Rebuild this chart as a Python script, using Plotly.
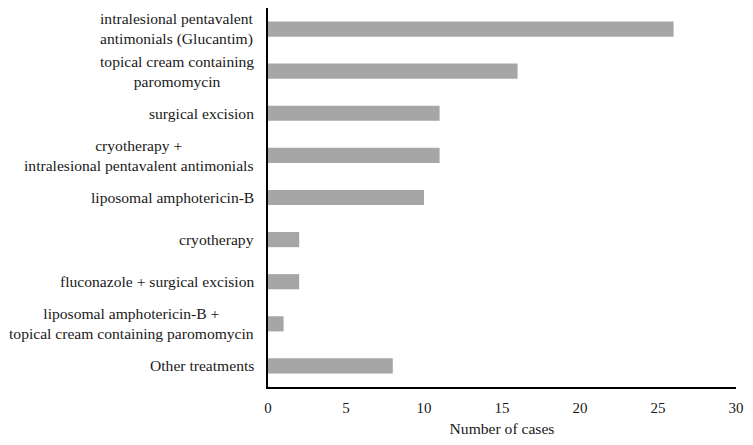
import plotly.graph_objects as go

categories = [
    "intralesional pentavalent<br>antimonials (Glucantim)",
    "topical cream containing<br>paromomycin",
    "surgical excision",
    "cryotherapy +<br>intralesional pentavalent antimonials",
    "liposomal amphotericin-B",
    "cryotherapy",
    "fluconazole + surgical excision",
    "liposomal amphotericin-B +<br>topical cream containing paromomycin",
    "Other treatments",
]
cases = [26, 16, 11, 11, 10, 2, 2, 1, 8]
x_ticks = [0, 5, 10, 15, 20, 25, 30]
x_title = "Number of cases"

FONT = "Liberation Serif"
FS = 15
FS_LABEL = 15.6

fig = go.Figure(go.Bar(
    x=cases, y=categories, orientation="h",
    marker=dict(color="#a6a6a6", line=dict(width=0)),
    width=0.36,
))

for c in categories:
    fig.add_annotation(
        x=0, xref="paper", y=c, yref="y",
        text=c, showarrow=False, xanchor="right", yanchor="middle",
        align="center", xshift=-12,
        font=dict(family=FONT, size=FS_LABEL, color="#1a1a1a"),
    )

fig.update_layout(
    width=745, height=437,
    margin=dict(l=260, r=17, t=0, b=58),
    paper_bgcolor="white", plot_bgcolor="white",
    showlegend=False,
    font=dict(family=FONT, size=FS, color="#1a1a1a"),
)
fig.update_xaxes(
    range=[0, 30], tickvals=x_ticks, ticks="", showgrid=False,
    showline=True, linecolor="black", linewidth=1.5, zeroline=False,
    ticklabelstandoff=6,
    title=dict(text=x_title, font=dict(family=FONT, size=FS_LABEL), standoff=8),
    tickfont=dict(family=FONT, size=FS),
)
fig.update_yaxes(
    categoryorder="array", categoryarray=categories[::-1],
    autorange=False, range=[-0.5, len(categories) - 0.5],
    showticklabels=False, ticks="", showgrid=False,
    showline=True, linecolor="black", linewidth=1.5, zeroline=False,
)

fig.write_html("out.html")
